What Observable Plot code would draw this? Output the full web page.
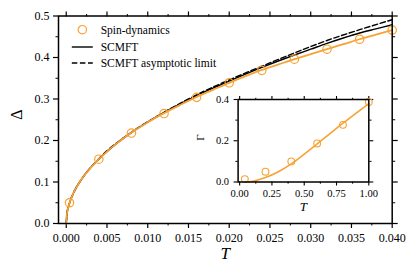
<!DOCTYPE html>
<html>
<head>
<meta charset="utf-8">
<script src="https://cdn.jsdelivr.net/npm/d3@7"></script>
<script src="https://cdn.jsdelivr.net/npm/@observablehq/plot@0.6"></script>
<style>
  html, body { margin: 0; padding: 0; background: #fff; }
  #wrap { position: relative; width: 416px; height: 277px; font-family: "Liberation Serif", serif; }
  #main, #inset, #legend { position: absolute; }
  svg { overflow: visible; }
</style>
</head>
<body>
<div id="wrap">
  <div id="main"></div>
  <div id="inset"></div>
  <div id="legend"></div>
</div>
<script>
const orange = "#f7a234";

// Main panel: spin-dynamics points
const spinT     = [0.0004, 0.004, 0.008, 0.012, 0.016, 0.020, 0.024, 0.028, 0.032, 0.036, 0.040];
const spinDelta = [0.050, 0.155, 0.218, 0.265, 0.304, 0.339, 0.369, 0.396, 0.420, 0.444, 0.466];

// Orange fit curve
const fitT     = [0, 0.00002, 0.0001, 0.0002, 0.0004, 0.0007, 0.001, 0.0015, 0.002, 0.003, 0.004, 0.005, 0.006, 0.007, 0.008, 0.010, 0.012, 0.014, 0.016, 0.018, 0.020, 0.022, 0.024, 0.026, 0.028, 0.030, 0.032, 0.034, 0.036, 0.038, 0.040];
const fitDelta = [0, 0.012, 0.025, 0.035, 0.049, 0.065, 0.078, 0.095, 0.110, 0.134, 0.155, 0.173, 0.190, 0.205, 0.219, 0.244, 0.266, 0.286, 0.305, 0.322, 0.339, 0.355, 0.370, 0.383, 0.396, 0.408, 0.420, 0.432, 0.444, 0.455, 0.466];

// SCMFT (solid black)
const scmftT     = [0, 0.0001, 0.0004, 0.001, 0.002, 0.004, 0.006, 0.008, 0.010, 0.012, 0.014, 0.016, 0.018, 0.020, 0.024, 0.028, 0.030, 0.032, 0.034, 0.036, 0.038, 0.040];
const scmftDelta = [0, 0.025, 0.049, 0.078, 0.110, 0.155, 0.190, 0.219, 0.244, 0.267, 0.288, 0.308, 0.326, 0.343, 0.376, 0.406, 0.420, 0.434, 0.447, 0.459, 0.469, 0.479];

// SCMFT asymptotic limit (dashed black)
const asymT     = [0, 0.0001, 0.0004, 0.001, 0.002, 0.004, 0.008, 0.012, 0.016, 0.020, 0.024, 0.028, 0.032, 0.036, 0.040];
const asymDelta = [0, 0.025, 0.049, 0.078, 0.110, 0.156, 0.220, 0.268, 0.310, 0.346, 0.379, 0.411, 0.441, 0.467, 0.491];

// Inset: Gamma vs T
const insetPtT     = [0.04, 0.20, 0.40, 0.60, 0.80, 1.00];
const insetPtGamma = [0.014, 0.050, 0.100, 0.187, 0.277, 0.388];
const insetFitT     = [0.04, 0.10, 0.20, 0.30, 0.40, 0.50, 0.60, 0.70, 0.80, 0.90, 1.00];
const insetFitGamma = [0.000, 0.004, 0.022, 0.050, 0.088, 0.135, 0.185, 0.235, 0.285, 0.333, 0.380];

// Ticks
const mainXMajor = [0, 0.005, 0.010, 0.015, 0.020, 0.025, 0.030, 0.035, 0.040];
const mainXMinor = [0.0025, 0.0075, 0.0125, 0.0175, 0.0225, 0.0275, 0.0325, 0.0375];
const mainYMajor = [0, 0.1, 0.2, 0.3, 0.4, 0.5];
const mainYMinor = [0.05, 0.15, 0.25, 0.35, 0.45];
const insetXMajor = [0, 0.25, 0.5, 0.75, 1.0];
const insetXMinor = [0.125, 0.375, 0.625, 0.875];
const insetYMajor = [0, 0.2, 0.4];
const insetYMinor = [0.1, 0.3];

const legendItems = ["Spin-dynamics", "SCMFT", "SCMFT asymptotic limit"];

const zip = (xs, ys) => xs.map((x, i) => ({x, y: ys[i]}));
// tick-only axis (no text)
const tk = (fn, o) => fn({...o, label: null, fill: "none", stroke: "#000"});

const main = Plot.plot({
  width: 416, height: 277,
  marginLeft: 58, marginRight: 24.3, marginTop: 15.5, marginBottom: 54,
  style: {fontFamily: "Liberation Serif, serif", fontSize: "12px", color: "#000", background: "transparent"},
  x: {domain: [-0.00095, 0.040]},
  y: {domain: [0, 0.5]},
  marks: [
    Plot.axisX({anchor: "bottom", ticks: mainXMajor, tickSize: 5, tickPadding: 5, tickFormat: d3.format(".3f"), label: null, strokeWidth: 1.2}),
    tk(Plot.axisX, {anchor: "bottom", ticks: mainXMinor, tickSize: 2.5, strokeWidth: 1}),
    tk(Plot.axisX, {anchor: "top", ticks: mainXMajor, tickSize: 5, strokeWidth: 1.2}),
    tk(Plot.axisX, {anchor: "top", ticks: mainXMinor, tickSize: 2.5, strokeWidth: 1}),
    Plot.axisY({anchor: "left", ticks: mainYMajor, tickSize: 5, tickPadding: 4, tickFormat: d3.format(".1f"), label: null, strokeWidth: 1.2}),
    tk(Plot.axisY, {anchor: "left", ticks: mainYMinor, tickSize: 2.5, strokeWidth: 1}),
    tk(Plot.axisY, {anchor: "right", ticks: mainYMajor, tickSize: 5, strokeWidth: 1.2}),
    tk(Plot.axisY, {anchor: "right", ticks: mainYMinor, tickSize: 2.5, strokeWidth: 1}),
    Plot.line(zip(asymT, asymDelta), {x: "x", y: "y", stroke: "#000", strokeWidth: 1.4, strokeDasharray: "5.5,2.6", curve: "monotone-x"}),
    Plot.line(zip(scmftT, scmftDelta), {x: "x", y: "y", stroke: "#000", strokeWidth: 1.4, curve: "monotone-x"}),
    Plot.line(zip(fitT, fitDelta), {x: "x", y: "y", stroke: orange, strokeWidth: 1.8, curve: "monotone-x"}),
    Plot.dot(zip(spinT, spinDelta), {x: "x", y: "y", r: 4.2, stroke: orange, strokeWidth: 1.2, fill: "none"}),
    Plot.frame({stroke: "#000", strokeWidth: 1.5}),
    Plot.text(["T"], {text: d => d, frameAnchor: "bottom", dy: 35, fontSize: 17, fontStyle: "italic", fill: "#000"}),
    Plot.text(["Δ"], {text: d => d, frameAnchor: "left", dx: -41.3, rotate: -90, fontSize: 16, fill: "#000"})
  ]
});
document.getElementById("main").appendChild(main);

const inset = Plot.plot({
  width: 200, height: 130,
  marginLeft: 47.6, marginRight: 21.7, marginTop: 9, marginBottom: 38.5,
  style: {fontFamily: "Liberation Serif, serif", fontSize: "10.5px", color: "#000", background: "transparent"},
  x: {domain: [-0.012, 1.0]},
  y: {domain: [0, 0.4]},
  marks: [
    Plot.axisX({anchor: "bottom", ticks: insetXMajor, tickSize: 4, tickPadding: 3.5, tickFormat: d3.format(".2f"), label: null, strokeWidth: 1.1}),
    tk(Plot.axisX, {anchor: "bottom", ticks: insetXMinor, tickSize: 2.2, strokeWidth: 1}),
    tk(Plot.axisX, {anchor: "top", ticks: insetXMajor, tickSize: 4, strokeWidth: 1.1}),
    tk(Plot.axisX, {anchor: "top", ticks: insetXMinor, tickSize: 2.2, strokeWidth: 1}),
    Plot.axisY({anchor: "left", ticks: insetYMajor, tickSize: 4, tickPadding: 5, tickFormat: d3.format(".1f"), label: null, strokeWidth: 1.1}),
    tk(Plot.axisY, {anchor: "left", ticks: insetYMinor, tickSize: 2.2, strokeWidth: 1}),
    tk(Plot.axisY, {anchor: "right", ticks: insetYMajor, tickSize: 4, strokeWidth: 1.1}),
    tk(Plot.axisY, {anchor: "right", ticks: insetYMinor, tickSize: 2.2, strokeWidth: 1}),
    Plot.line(zip(insetFitT, insetFitGamma), {x: "x", y: "y", stroke: orange, strokeWidth: 1.6, curve: "monotone-x"}),
    Plot.dot(zip(insetPtT, insetPtGamma), {x: "x", y: "y", r: 3.4, stroke: orange, strokeWidth: 1.1, fill: "none"}),
    Plot.frame({stroke: "#000", strokeWidth: 1.5}),
    Plot.text(["T"], {text: d => d, frameAnchor: "bottom", dy: 28.5, fontSize: 13, fontStyle: "italic", fill: "#000"}),
    Plot.text(["Γ"], {text: d => d, frameAnchor: "left", dx: -37.7, rotate: -90, fontSize: 11, fill: "#000"})
  ]
});
const insetDiv = document.getElementById("inset");
insetDiv.style.left = "190px";
insetDiv.style.top = "90px";
insetDiv.appendChild(inset);

// Legend
const ns = "http://www.w3.org/2000/svg";
const leg = document.createElementNS(ns, "svg");
leg.setAttribute("width", 180);
leg.setAttribute("height", 50);
const legDiv = document.getElementById("legend");
legDiv.style.left = "66px";
legDiv.style.top = "20px";
const rowY = [9.7, 27, 43];
const symX = 16.3;
legendItems.forEach((label, i) => {
  if (i === 0) {
    const c = document.createElementNS(ns, "circle");
    c.setAttribute("cx", symX); c.setAttribute("cy", rowY[i]); c.setAttribute("r", 4.2);
    c.setAttribute("fill", "none"); c.setAttribute("stroke", orange); c.setAttribute("stroke-width", 1.2);
    leg.appendChild(c);
  } else {
    const l = document.createElementNS(ns, "line");
    l.setAttribute("x1", symX - 10.5); l.setAttribute("x2", symX + 10.5);
    l.setAttribute("y1", rowY[i]); l.setAttribute("y2", rowY[i]);
    l.setAttribute("stroke", "#000"); l.setAttribute("stroke-width", 1.4);
    if (i === 2) l.setAttribute("stroke-dasharray", "5.5,2.6");
    leg.appendChild(l);
  }
  const t = document.createElementNS(ns, "text");
  t.setAttribute("x", 34.7); t.setAttribute("y", rowY[i]);
  t.setAttribute("dy", "0.35em");
  t.setAttribute("font-size", 11.5);
  t.setAttribute("font-family", "Liberation Serif, serif");
  t.textContent = label;
  leg.appendChild(t);
});
legDiv.appendChild(leg);
</script>
</body>
</html>
